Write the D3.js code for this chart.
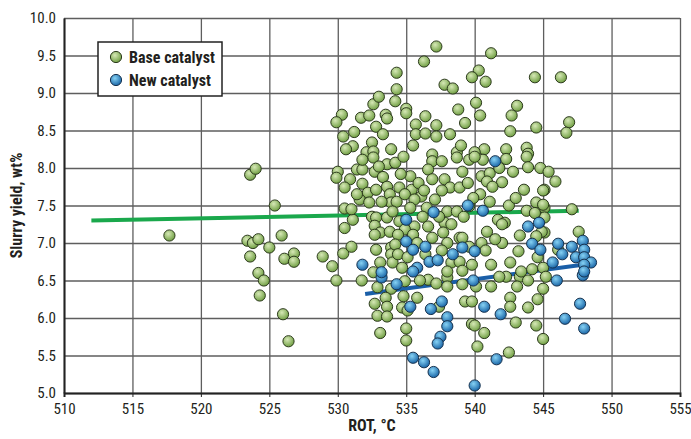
<!DOCTYPE html>
<html>
<head>
<meta charset="utf-8">
<script src="https://cdn.jsdelivr.net/npm/d3@7"></script>
<style>
  body { margin: 0; background: #fff; }
  svg text { font-family: "Liberation Sans Narrow", "Roboto Condensed", "Arial Narrow", sans-serif; }
</style>
</head>
<body>
<svg id="chart" width="691" height="439"></svg>
<script>
// values (ROT °C, slurry yield wt%)
var baseCatalyst = [
  [517.7,7.1],[523.6,7.91],[524.0,7.99],[525.4,7.5],[523.4,7.03],[523.8,7.0],[524.2,7.05],[523.6,6.82],
  [524.2,6.6],[524.6,6.5],[524.3,6.3],[525.0,6.94],[525.9,7.1],[526.1,6.79],[526.8,6.86],[526.8,6.75],
  [526.0,6.05],[526.4,5.69],
  [529.9,6.5],[531.75,6.5],[532.9,6.41],[533.9,6.39],[533.5,6.27],[532.7,6.19],[533.6,6.15],[532.9,6.03],
  [533.6,6.02],[533.1,5.8],
  [534.9,6.49],[536.6,6.51],[537.2,6.46],[538.0,6.54],[538.0,6.42],[539.1,6.45],[534.8,6.29],[535.8,6.27],
  [534.7,6.14],[535.1,6.1],[537.4,6.15],[539.3,6.22],[539.8,6.22],[535.0,5.86],[535.0,5.7],[539.8,5.92],
  [540.1,6.42],[541.2,6.42],[542.3,6.55],[543.3,6.55],[543.1,6.42],[543.9,6.5],[545.0,6.39],[542.6,6.27],
  [542.6,6.15],[543.9,6.14],[543.0,5.94],[540.0,5.9],[540.7,5.8],[544.5,5.9],[545.0,5.72],[540.2,5.62],
  [542.5,5.54],
  [545.9,7.82],[545.1,7.71],[545.1,7.47],[547.1,7.45],[545.1,7.34],[545.1,7.14],[547.6,7.15],[546.1,6.91],
  [546.3,9.21],[546.9,8.61],[546.7,8.47],
  [541.2,9.53],[540.3,9.3],[539.8,9.21],[540.8,9.15],[544.4,9.21],[540.1,8.87],[543.1,8.83],[540.4,8.7],
  [542.7,8.7],[542.6,8.49],[544.5,8.54],[540.7,8.25],[542.3,8.25],[543.8,8.27],[540.0,8.21],[543.9,8.19],
  [537.2,9.62],[536.3,9.42],[534.3,9.27],[537.8,9.11],[538.4,9.06],[534.3,9.05],[534.2,8.89],[538.8,8.78],
  [535.0,8.79],[535.0,8.73],[536.4,8.69],[535.7,8.58],[537.2,8.57],[535.7,8.45],[536.4,8.46],[537.2,8.42],
  [536.9,8.18],[538.7,8.21],
  [532.6,8.85],[530.3,8.71],[529.9,8.61],[531.7,8.67],[532.3,8.7],[533.5,8.71],[533.6,8.66],[532.8,8.55],
  [533.3,8.45],[530.4,8.42],[531.1,8.29],[530.6,8.25],[532.5,8.34],[532.1,8.21],[532.6,8.22],[533.9,8.25],
  [530.0,7.95],[529.9,7.87],[531.4,7.98],[531.8,7.98],[532.6,8.14],[531.8,8.11],[533.6,8.05],[534.2,8.07],
  [532.7,7.95],[533.3,7.88],[530.9,7.85],[530.5,7.74],[531.8,7.79],[532.2,7.67],[532.8,7.71],[533.6,7.75],
  [533.8,7.65],[531.6,7.58],[532.3,7.54],[533.9,7.54],[530.5,7.46],[531.1,7.31],[532.5,7.35],[532.8,7.34],
  [533.6,7.34],[532.7,7.23],[533.1,7.14],[533.8,7.15],[532.7,7.11],[528.9,6.82],[530.4,6.86],[529.6,6.69],
  [532.8,6.91],[533.9,6.94],[533.1,6.74],[533.9,6.85],[532.6,6.61],[534.0,6.74],
  [536.9,8.09],[537.6,8.09],[538.7,8.14],[536.6,7.98],[535.3,7.89],[536.9,7.85],[537.8,7.85],[539.1,7.95],
  [539.6,8.11],[534.5,7.74],[535.4,7.71],[538.2,7.74],[538.9,7.74],[534.9,7.65],[536.1,7.62],[535.6,7.58],
  [537.1,7.58],[534.3,7.55],[535.3,7.47],[536.5,7.47],[538.0,7.42],[538.7,7.42],[534.5,7.29],[537.8,7.27],
  [538.3,7.25],[535.6,7.22],[536.6,7.22],[534.9,7.18],[535.5,7.11],[537.7,7.14],[534.4,7.11],[538.9,7.07],
  [539.1,7.07],[536.9,7.07],[535.8,7.0],[538.0,7.0],[534.2,6.98],[534.4,6.85],[535.1,6.81],[538.3,6.74],
  [538.9,6.75],[538.0,6.62],[539.1,6.63],[534.7,6.67],
  [540.6,8.11],[540.0,8.15],[543.8,8.15],[543.9,8.01],[542.8,7.95],[540.5,7.89],[541.1,7.93],[540.9,7.82],
  [542.0,7.81],[541.3,7.75],[543.6,7.71],[545.0,7.7],[540.4,7.65],[541.1,7.55],[539.6,7.49],[543.8,7.43],
  [544.5,7.54],[545.0,7.51],[544.4,7.4],[541.7,7.31],[542.2,7.27],[542.0,7.25],[544.9,7.15],[544.5,7.09],
  [540.5,7.0],[542.0,7.0],[543.2,6.89],[544.6,6.81],[539.8,6.71],[541.2,6.71],[542.6,6.74],[543.4,6.62],
  [544.2,6.65],[545.0,6.67],
  [533.0,8.02],[534.6,7.92],[535.9,7.8],[536.3,7.7],[537.6,7.7],[539.5,7.8],[539.9,7.6],[539.2,7.35],
  [536.2,7.35],[537.4,7.35],[534.0,7.42],[533.2,7.55],[531.4,7.65],[531.0,7.45],[540.9,7.15],[541.5,7.05],
  [543.3,7.1],[542.5,7.5],[543.0,7.6],[541.8,8.0],[542.3,8.12],[539.0,8.3],[535.5,8.3],[534.8,8.15],
  [538.2,8.45],[539.3,8.6],[544.8,8.0],[545.4,7.95],[531.2,8.48],[533.0,8.95],[536.4,6.85],[537.6,6.9],
  [536.0,6.5],[541.8,6.55],[544.6,6.25],[545.2,6.55],[531.0,6.95],[530.5,7.2],[539.6,6.95],[540.8,6.9]
];

var newCatalyst = [
  [533.2,6.54],[534.3,6.45],[539.9,6.5],[535.3,6.15],[536.8,6.12],[537.6,6.22],[538.0,6.01],[538.0,5.89],
  [537.5,5.75],[537.3,5.66],[535.5,5.47],[536.3,5.41],[537.0,5.28],[540.0,5.1],[540.7,6.15],[541.9,6.05],
  [541.6,5.45],[546.0,6.5],[547.9,6.57],[547.7,6.19],[546.6,5.99],[548.0,5.86],
  [546.1,6.99],[547.1,6.95],[547.9,7.03],[548.0,6.91],[546.4,6.85],[547.4,6.81],[548.0,6.81],[545.7,6.74],
  [548.5,6.74],[548.0,6.71],[548.0,6.62],[531.8,6.71],[533.2,6.61],
  [537.0,7.41],[539.5,7.5],[535.0,7.31],[535.0,7.02],[536.4,6.95],[535.5,6.91],[538.4,6.85],[539.1,6.94],
  [536.7,6.75],[537.3,6.77],[535.8,6.67],[535.5,6.62],
  [541.5,8.09],[540.6,7.43],[543.9,7.22],[544.7,7.27],[544.2,6.99],[544.8,6.91],[540.0,6.89]
];

// fitted trend lines (end points)
var baseTrend = [[512, 7.3], [547.6, 7.43]];
var newTrend = [[532, 6.32], [548.3, 6.72]];

var xTicks = [510, 515, 520, 525, 530, 535, 540, 545, 550, 555];
var yTicks = [5.0, 5.5, 6.0, 6.5, 7.0, 7.5, 8.0, 8.5, 9.0, 9.5, 10.0];

var svg = d3.select("#chart");
var margin = {top: 18, right: 11, bottom: 46, left: 64};
var width = 691 - margin.left - margin.right;
var height = 439 - margin.top - margin.bottom;

var defs = svg.append("defs");
function ballGrad(id, light, dark) {
  var g = defs.append("radialGradient").attr("id", id)
    .attr("cx", "40%").attr("cy", "35%").attr("r", "65%");
  g.append("stop").attr("offset", "0%").attr("stop-color", light);
  g.append("stop").attr("offset", "100%").attr("stop-color", dark);
}
ballGrad("gGreen", "#d6e8b6", "#71a044");
ballGrad("gBlue", "#86d2f4", "#1b67a8");

var g = svg.append("g").attr("transform", "translate(" + margin.left + "," + margin.top + ")");

var x = d3.scaleLinear().domain([510, 555]).range([0, width]);
var y = d3.scaleLinear().domain([5, 10]).range([height, 0]);

// grid
g.append("g").attr("class", "grid")
  .attr("transform", "translate(0," + height + ")")
  .call(d3.axisBottom(x).tickValues(xTicks).tickSize(-height).tickFormat(""))
  .call(a => a.select(".domain").remove())
  .selectAll("line").attr("stroke", "#5e5e5e").attr("stroke-width", 1.3);
g.append("g").attr("class", "grid")
  .call(d3.axisLeft(y).tickValues(yTicks).tickSize(-width).tickFormat(""))
  .call(a => a.select(".domain").remove())
  .selectAll("line").attr("stroke", "#5e5e5e").attr("stroke-width", 1.3);

// axes
var xAxis = g.append("g").attr("transform", "translate(0," + height + ")")
  .call(d3.axisBottom(x).tickValues(xTicks).tickSize(4).tickPadding(6).tickFormat(d3.format("d")));
var yAxis = g.append("g")
  .call(d3.axisLeft(y).tickValues(yTicks).tickSize(0).tickPadding(8).tickFormat(d3.format(".1f")));
[xAxis, yAxis].forEach(function(a) {
  a.select(".domain").attr("stroke", "#222").attr("stroke-width", 2);
  a.selectAll(".tick line").attr("stroke", "#222");
  a.selectAll("text").attr("font-size", 15).attr("fill", "#231f20")
    .style("font-family", '"Liberation Sans Narrow", "Roboto Condensed", sans-serif');
});

// trend lines
var line = d3.line().x(d => x(d[0])).y(d => y(d[1]));
g.append("path").datum(baseTrend).attr("d", line)
  .attr("stroke", "#1aa84c").attr("stroke-width", 4).attr("fill", "none");
g.append("path").datum(newTrend).attr("d", line)
  .attr("stroke", "#1a5fa8").attr("stroke-width", 4).attr("fill", "none");

// points
g.append("g").selectAll("circle").data(baseCatalyst).join("circle")
  .attr("cx", d => x(d[0])).attr("cy", d => y(d[1])).attr("r", 5.6)
  .attr("fill", "url(#gGreen)").attr("stroke", "#2c3a1c").attr("stroke-width", 1);
g.append("g").selectAll("circle").data(newCatalyst).join("circle")
  .attr("cx", d => x(d[0])).attr("cy", d => y(d[1])).attr("r", 5.6)
  .attr("fill", "url(#gBlue)").attr("stroke", "#16324f").attr("stroke-width", 1);

// legend
var lg = svg.append("g").attr("transform", "translate(98,42)");
lg.append("rect").attr("width", 124).attr("height", 54)
  .attr("fill", "#fff").attr("stroke", "#222").attr("stroke-width", 1.5);
[["Base catalyst", "url(#gGreen)", "#2c3a1c"], ["New catalyst", "url(#gBlue)", "#16324f"]].forEach(function(it, i) {
  lg.append("circle").attr("cx", 18).attr("cy", 15 + i * 23).attr("r", 5.6)
    .attr("fill", it[1]).attr("stroke", it[2]);
  lg.append("text").attr("x", 31).attr("y", 15 + i * 23).attr("dy", "0.35em")
    .attr("font-size", 16).attr("font-weight", "bold").attr("fill", "#231f20").text(it[0]);
});

// axis titles
svg.append("text").attr("x", margin.left + width / 2).attr("y", 431)
  .attr("text-anchor", "middle").attr("font-size", 16).attr("font-weight", "bold")
  .attr("fill", "#231f20").text("ROT, °C");
svg.append("text").attr("transform", "translate(22," + (margin.top + height / 2) + ") rotate(-90)")
  .attr("text-anchor", "middle").attr("font-size", 16).attr("font-weight", "bold")
  .attr("fill", "#231f20").text("Slurry yield, wt%");
</script>
</body>
</html>
